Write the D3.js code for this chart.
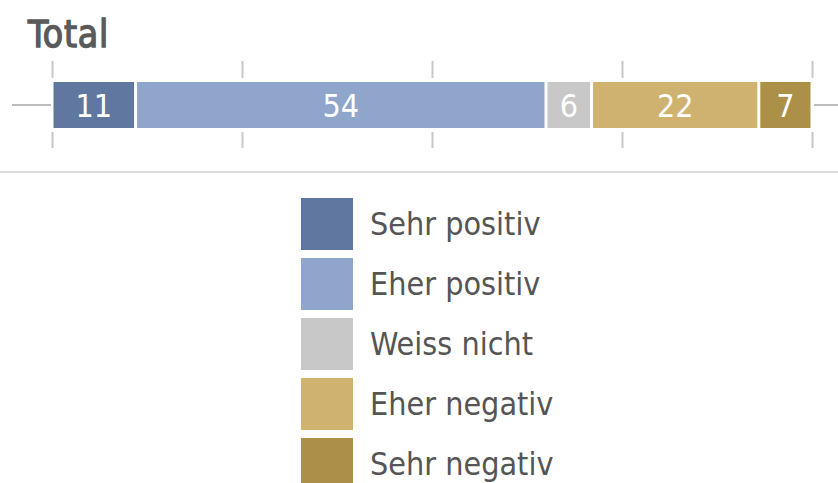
<!DOCTYPE html>
<html>
<head>
<meta charset="utf-8">
<script src="https://cdn.jsdelivr.net/npm/d3@7"></script>
<style>
  body { margin: 0; background: #fff; }
  svg { display: block; }
  text { font-family: "Liberation Sans Narrow", "DejaVu Sans Condensed", "Roboto Condensed", sans-serif; }
</style>
</head>
<body>
<svg id="chart"></svg>
<script>
// Data
const categories = ['Sehr positiv', 'Eher positiv', 'Weiss nicht', 'Eher negativ', 'Sehr negativ']
const values = [11, 54, 6, 22, 7]
const colors = ['#60789f', '#8fa5cc', '#c8c8c8', '#cfb26f', '#ad9048']
const tickValues = [0, 25, 50, 75, 100]
const title = 'Total'

const width = 838
const height = 483

const svg = d3.select('#chart')
  .attr('width', width)
  .attr('height', height)

const x = d3.scaleLinear().domain([0, 100]).range([52, 812])

// Stack the values
let acc = 0
const stacked = values.map((v, i) => {
  const d = { key: categories[i], value: v, x0: acc, x1: acc + v, color: colors[i] }
  acc += v
  return d
})

const barTop = 82
const barH = 46

// Title
svg.append('text')
  .attr('x', 28)
  .attr('y', 47)
  .attr('fill', '#5a5a5a')
  .attr('stroke', '#5a5a5a')
  .attr('stroke-width', 1.3)
  .attr('font-size', 37)
  .attr('letter-spacing', 0.8)
  .text(title)

// Ticks above and below
const axisTop = d3.axisTop(x).tickValues(tickValues).tickSize(17).tickFormat('')
const axisBottom = d3.axisBottom(x).tickValues(tickValues).tickSize(16).tickFormat('')

svg.append('g').attr('transform', `translate(0,${barTop - 4})`).call(axisTop)
svg.append('g').attr('transform', `translate(0,${barTop + barH + 4})`).call(axisBottom)
svg.selectAll('.domain').remove()
svg.selectAll('.tick line').attr('stroke', '#c8c8c8').attr('stroke-width', 2)

// Stub lines left and right
svg.append('line')
  .attr('x1', 12).attr('x2', x(0) - 1)
  .attr('y1', barTop + barH / 2).attr('y2', barTop + barH / 2)
  .attr('stroke', '#bdbdbd').attr('stroke-width', 2)
svg.append('line')
  .attr('x1', x(100) + 2).attr('x2', width)
  .attr('y1', barTop + barH / 2).attr('y2', barTop + barH / 2)
  .attr('stroke', '#bdbdbd').attr('stroke-width', 2)

// Bars
const seg = svg.append('g').selectAll('g')
  .data(stacked)
  .join('g')

seg.append('rect')
  .attr('x', d => x(d.x0) + 1.5)
  .attr('y', barTop)
  .attr('width', d => x(d.x1) - x(d.x0) - 3)
  .attr('height', barH)
  .attr('fill', d => d.color)

seg.append('text')
  .attr('x', d => (x(d.x0) + x(d.x1)) / 2)
  .attr('y', barTop + barH / 2 + 12)
  .attr('text-anchor', 'middle')
  .attr('fill', '#fff')
  .attr('font-size', 32)
  .text(d => d.value)

// Separator
svg.append('line')
  .attr('x1', 0).attr('x2', width)
  .attr('y1', 172).attr('y2', 172)
  .attr('stroke', '#d0d0d0').attr('stroke-width', 1.5)

// Legend
const legend = svg.append('g').attr('transform', 'translate(301,198)')
const item = legend.selectAll('g')
  .data(categories)
  .join('g')
  .attr('transform', (d, i) => `translate(0,${i * 60})`)

item.append('rect')
  .attr('width', 52)
  .attr('height', 52)
  .attr('fill', (d, i) => colors[i])

item.append('text')
  .attr('x', 69)
  .attr('y', 37)
  .attr('fill', '#555')
  .attr('font-size', 32)
  .text(d => d)
</script>
</body>
</html>
